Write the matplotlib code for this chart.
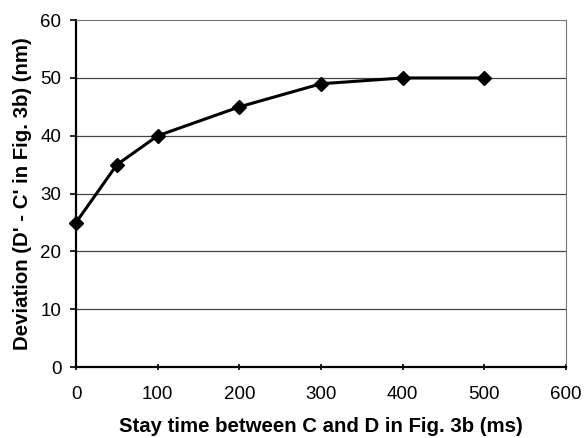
import matplotlib
matplotlib.use("Agg")
import matplotlib.pyplot as plt

stay_time = [0, 50, 100, 200, 300, 400, 500]
deviation = [25, 35, 40, 45, 49, 50, 50]
x_ticks = [0, 100, 200, 300, 400, 500, 600]
y_ticks = [0, 10, 20, 30, 40, 50, 60]

plt.rcParams['font.family'] = ['Liberation Sans', 'DejaVu Sans']

fig = plt.figure(figsize=(5.85, 4.38), dpi=100)
ax = fig.add_axes([0.130, 0.162, 0.8375, 0.792])

ax.set_xlim(0, 600)
ax.set_ylim(0, 60)
ax.set_xticks(x_ticks)
ax.set_yticks(y_ticks)

for y in y_ticks[1:-1]:
    ax.axhline(y, color='#444444', lw=0.9, zorder=1)

ax.plot(stay_time, deviation, color='black', lw=2.2, marker='D', markersize=7.5,
        markerfacecolor='black', zorder=3, clip_on=False)

for s in ['left', 'bottom']:
    ax.spines[s].set_linewidth(1.6)
    ax.spines[s].set_color('black')
for s in ['top', 'right']:
    ax.spines[s].set_linestyle((0, (1, 1)))
    ax.spines[s].set_color('#777777')
    ax.spines[s].set_linewidth(0.8)

ax.tick_params(axis='y', direction='out', length=4, width=1.2, labelsize=13.5, pad=6.5)
ax.tick_params(axis='x', direction='inout', length=5, width=1.2, labelsize=13.5, pad=11)

ax.set_xlabel('Stay time between C and D in Fig. 3b (ms)', fontsize=14.7, fontweight='bold')
ax.set_ylabel("Deviation (D' - C' in Fig. 3b) (nm)", fontsize=14.7, fontweight='bold')
ax.xaxis.set_label_coords(0.5, -0.144)
ax.yaxis.label.set_va('center')
ax.yaxis.set_label_coords(-0.110, 0.5)

fig.savefig('out.png', dpi=100)
